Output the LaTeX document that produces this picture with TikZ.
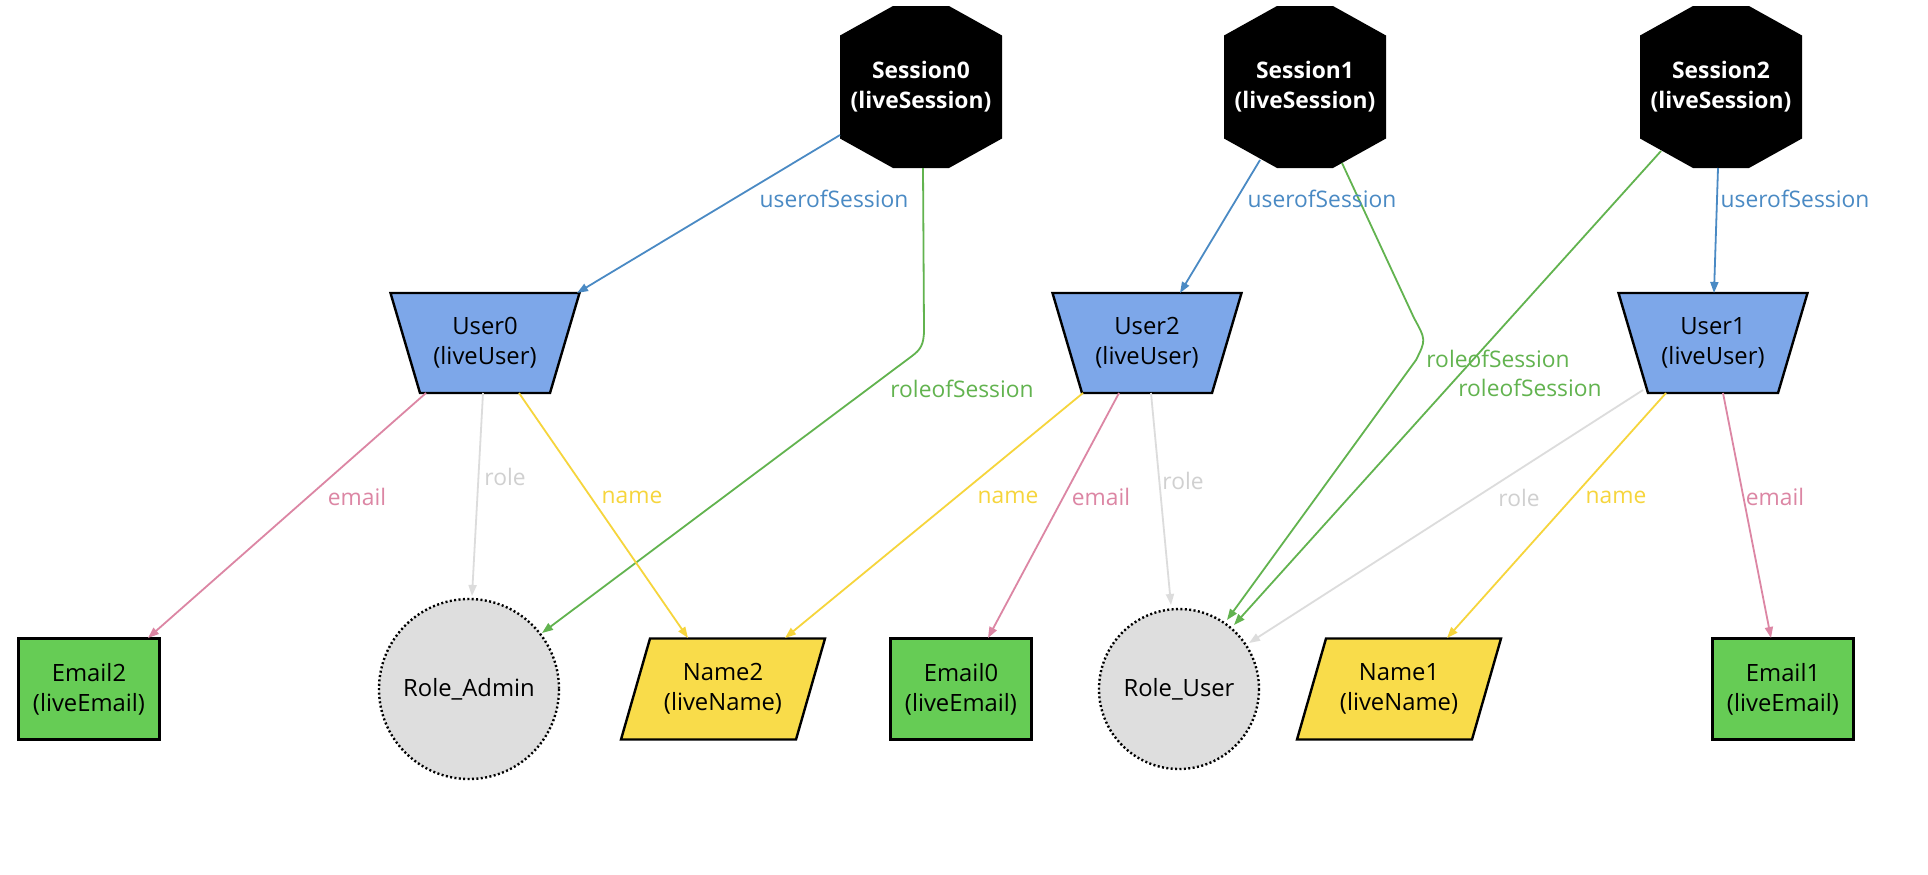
\documentclass[tikz,border=0pt]{standalone}
\usepackage{fontspec}
\setmainfont{Open Sans}
\usetikzlibrary{arrows.meta,calc,backgrounds}
\definecolor{cblue}{HTML}{4A8AC4}
\definecolor{cgreen}{HTML}{62B34F}
\definecolor{cpink}{HTML}{DC86A4}
\definecolor{cyellow}{HTML}{F6D53C}
\definecolor{cgray}{HTML}{DCDCDC}
\definecolor{cgraytxt}{HTML}{D0D0D0}
\definecolor{fuser}{HTML}{7DA7E9}
\definecolor{femail}{HTML}{66CC55}
\definecolor{fname}{HTML}{F9DC4A}
\definecolor{frole}{HTML}{DEDEDE}
\begin{document}
\begin{tikzpicture}[x=0.5pt,y=-0.5pt,
  every node/.style={inner sep=0pt, align=center},
  ntxt/.style={font=\fontsize{11.9}{15}\selectfont},
  stxt/.style={font=\bfseries\fontsize{11.4}{15}\selectfont, text=white},
  lbl/.style={font=\fontsize{11.4}{13}\selectfont},
  edgeline/.style={line width=0.9pt, -{Triangle[length=5.5pt,width=4pt]}},
  eblue/.style={edgeline, draw=cblue},
  egreen/.style={edgeline, draw=cgreen},
  epink/.style={edgeline, draw=cpink},
  eyellow/.style={edgeline, draw=cyellow},
  egray/.style={edgeline, draw=cgray},
  shp/.style={line width=1.2pt, draw=black},
  rolecirc/.style={line width=1.2pt, draw=black, dash pattern=on 1pt off 1.2pt, fill=frole}]
\useasboundingbox (0,0) rectangle (1928,874);

% nodes
\node[stxt] (S0) at (921,87) {Session0\\(liveSession)};
\node[stxt] (S1) at (1305,87) {Session1\\(liveSession)};
\node[stxt] (S2) at (1721,87) {Session2\\(liveSession)};
\node[ntxt] (U0) at (485,343) {User0\\(liveUser)};
\node[ntxt] (U2) at (1147,343) {User2\\(liveUser)};
\node[ntxt] (U1) at (1713,343) {User1\\(liveUser)};
\node[ntxt] (E2) at (89,689) {Email2\\(liveEmail)};
\node[ntxt] (RA) at (469,689) {Role\_Admin};
\node[ntxt] (N2) at (723,689) {Name2\\(liveName)};
\node[ntxt] (E0) at (961,689) {Email0\\(liveEmail)};
\node[ntxt] (RU) at (1179,689) {Role\_User};
\node[ntxt] (N1) at (1399,689) {Name1\\(liveName)};
\node[ntxt] (E1) at (1783,689) {Email1\\(liveEmail)};

% shapes behind the texts
\begin{scope}[on background layer]
\fill[white] (0,0) rectangle (1928,874);
\foreach \n in {S0,S1,S2}
  \fill[black, shift={(\n)}] (-81,-51.5) -- (-28,-81) -- (28,-81) -- (81,-51.5) -- (81,51.5) -- (28,81) -- (-28,81) -- (-81,51.5) -- cycle;
\foreach \n in {U0,U2,U1}
  \filldraw[shp, fill=fuser, shift={(\n)}] (-94.5,-50) -- (94.5,-50) -- (65,50) -- (-65,50) -- cycle;
\foreach \n in {E2,E0,E1}
  \filldraw[shp, fill=femail, shift={(\n)}] (-70.5,-50.5) rectangle (70.5,50.5);
\foreach \n in {N2,N1}
  \filldraw[shp, fill=fname, shift={(\n)}] (-73,-50.5) -- (102,-50.5) -- (73,50.5) -- (-102,50.5) -- cycle;
\path[rolecirc, shift={(RA)}] (0,0) circle [radius=90];
\path[rolecirc, shift={(RU)}] (0,0) circle [radius=80];
\end{scope}

% userofSession
\draw[eblue] ($(S0)+(-81,48)$) -- ($(U0)+(92,-50)$);
\draw[eblue] ($(S1)+(-45,73)$) -- ($(U2)+(33,-50)$);
\draw[eblue] ($(S2)+(-3,81)$) -- ($(U1)+(1,-50)$);
% roleofSession
\draw[egreen] ($(S0)+(2,81)$) -- (924,330) .. controls (924,345) and (920,350) .. (912,356) -- ($(RA)+(73,-56)$);
\draw[egreen] ($(S1)+(37,76)$) -- (1414,318) .. controls (1426,340) .. (1416,360) -- ($(RU)+(48,-69)$);
\draw[egreen] ($(S2)+(-60,64)$) -- ($(RU)+(55,-64)$);
% email
\draw[epink] ($(U0)+(-59,50)$) -- ($(E2)+(59,-51)$);
\draw[epink] ($(U2)+(-28,50)$) -- ($(E0)+(27,-51)$);
\draw[epink] ($(U1)+(10,50)$) -- ($(E1)+(-12,-51)$);
% role
\draw[egray] ($(U0)+(-2,50)$) -- ($(RA)+(3,-93)$);
\draw[egray] ($(U2)+(4,50)$) -- ($(RU)+(-8,-84)$);
\draw[egray] ($(U1)+(-70,47)$) -- ($(RU)+(70,-46)$);
% name
\draw[eyellow] ($(U0)+(34,50)$) -- ($(N2)+(-35,-51)$);
\draw[eyellow] ($(U2)+(-64,50)$) -- ($(N2)+(62,-51)$);
\draw[eyellow] ($(U1)+(-47,50)$) -- ($(N1)+(48,-51)$);

% labels
\node[lbl, text=cblue] (l1) at (834,199) {userofSession};
\node[lbl, text=cblue] (l2) at (1322,199) {userofSession};
\node[lbl, text=cblue] (l3) at (1795,199) {userofSession};
\node[lbl, text=cgreen] (l4) at (962,389) {roleofSession};
\node[lbl, text=cgreen] (l5) at (1498,359) {roleofSession};
\node[lbl, text=cgreen] (l6) at (1530,388) {roleofSession};
\node[lbl, text=cpink] (l7) at (357,497) {email};
\node[lbl, text=cpink] (l8) at (1101,497) {email};
\node[lbl, text=cpink] (l9) at (1775,497) {email};
\node[lbl, text=cgraytxt] (l10) at (505,477) {role};
\node[lbl, text=cgraytxt] (l11) at (1183,481) {role};
\node[lbl, text=cgraytxt] (l12) at (1519,498) {role};
\node[lbl, text=cyellow] (l13) at (632,497) {name};
\node[lbl, text=cyellow] (l14) at (1008,497) {name};
\node[lbl, text=cyellow] (l15) at (1616,497) {name};
\end{tikzpicture}
\end{document}
